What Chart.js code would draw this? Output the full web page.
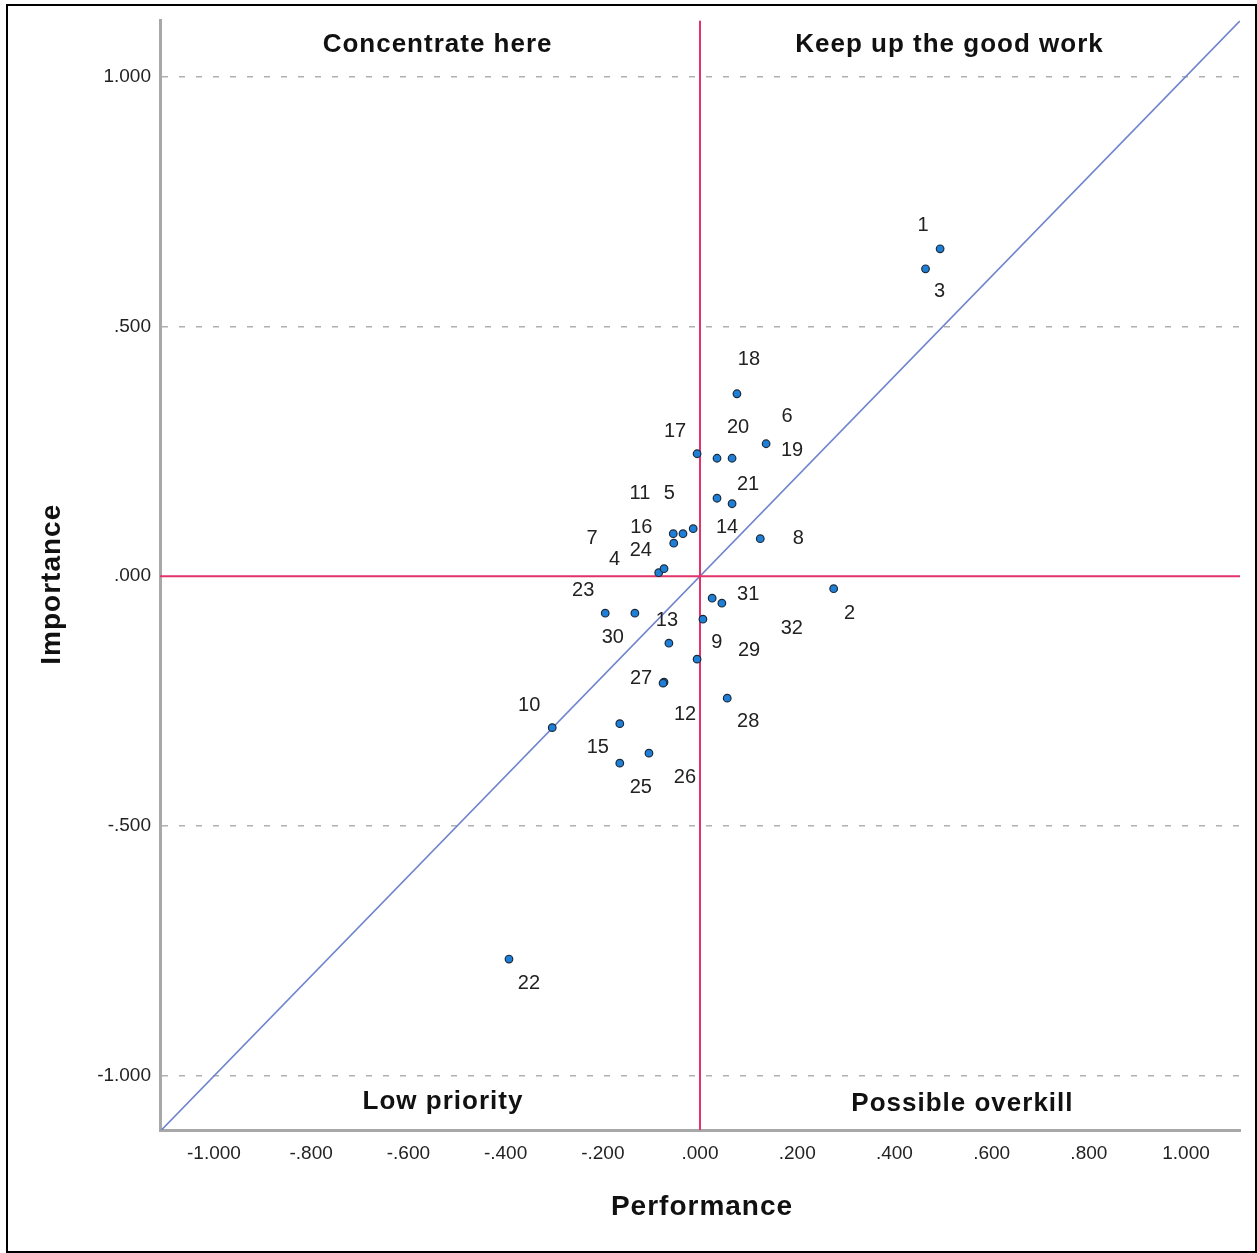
<!DOCTYPE html>
<html lang="en">
  <head>
    <meta charset="UTF-8">
    <script src="https://cdn.jsdelivr.net/npm/chart.js"></script>
    <style>
      body { margin: 0; background: #fff; }
      canvas { display: block; }
    </style>
  </head>
  <body>
    <canvas id="ipaChart" width="1257" height="1253"></canvas>

<script>
  // point ids (1..32) with performance (x) and importance (y)
  const pointIds = ['1','2','3','4','5','6','7','8','9','10','11','12','13','14','15','16',
                    '17','18','19','20','21','22','23','24','25','26','27','28','29','30','31','32'];
  const performance = [0.494, 0.275, 0.464, -0.085, -0.014, 0.136, -0.074, 0.124, 0.006, -0.304,
                       -0.035, -0.074, -0.064, 0.035, -0.165, -0.055, -0.006, 0.076, 0.066, 0.035,
                       0.066, -0.393, -0.195, -0.054, -0.165, -0.105, -0.076, 0.056, -0.006, -0.134,
                       0.025, 0.045];
  const importance = [0.655, -0.025, 0.615, 0.007, 0.095, 0.265, 0.015, 0.075, -0.086, -0.303,
                      0.085, -0.212, -0.134, 0.156, -0.295, 0.085, 0.245, 0.365, 0.236, 0.236,
                      0.145, -0.766, -0.074, 0.066, -0.374, -0.354, -0.214, -0.244, -0.166, -0.074,
                      -0.044, -0.054];

  const xTickValues = [-1, -0.8, -0.6, -0.4, -0.2, 0, 0.2, 0.4, 0.6, 0.8, 1];
  const yTickValues = [-1, -0.5, 0, 0.5, 1];
  const quadrantNames = ['Concentrate here', 'Keep up the good work', 'Low priority', 'Possible overkill'];
  const xTitle = 'Performance';
  const yTitle = 'Importance';

  // where each id label sits relative to its point (pixels), like SPSS placed them
  const labelShift = [[-17,-23],[16,25],[14,23],[-44,-13],[-24,-35],[21,-27],[-72,-30],[38,0],
                      [14,23],[-23,-22],[-43,-40],[21,32],[-2,-23],[10,29],[-22,24],[-32,-6],
                      [-22,-22],[12,-34],[60,-8],[21,-31],[16,-19],[20,24],[-22,-23],[-33,7],
                      [21,24],[36,24],[-22,-5],[21,23],[52,-9],[-22,24],[36,-4],[70,25]];

  const X_MIN = -1.111, X_MAX = 1.111;
  const Y_MIN = -1.108, Y_MAX = 1.112;
  const FONT = '"Liberation Sans", Arial, sans-serif';

  // "1.000", ".500", "-.200" style of SPSS
  function spssFmt(v) {
    let s = Math.abs(v).toFixed(3);
    if (s.startsWith('0')) s = s.slice(1);
    return (v < 0 ? '-' : '') + s;
  }

  const points = performance.map((p, i) => ({ x: p, y: importance[i] }));

  const textPlugin = {
    id: 'ipaText',
    beforeDraw(chart) {
      const ctx = chart.ctx;
      ctx.save();
      ctx.fillStyle = '#fff';
      ctx.fillRect(0, 0, chart.width, chart.height);
      ctx.restore();
    },
    afterDraw(chart) {
      const ctx = chart.ctx;
      const xs = chart.scales.x, ys = chart.scales.y;
      const area = chart.chartArea;
      const w = area.right - area.left;
      ctx.save();

      // id labels next to points
      ctx.font = '20px ' + FONT;
      ctx.fillStyle = '#222';
      ctx.textAlign = 'center';
      ctx.textBaseline = 'middle';
      points.forEach((pt, i) => {
        const px = xs.getPixelForValue(pt.x) + labelShift[i][0];
        const py = ys.getPixelForValue(pt.y) + labelShift[i][1];
        ctx.fillText(pointIds[i], px, py);
      });

      // quadrant captions
      ctx.font = 'bold 26px ' + FONT;
      ctx.letterSpacing = '1px';
      ctx.fillStyle = '#111';
      ctx.fillText(quadrantNames[0], area.left + w * 0.257, area.top + 24);
      ctx.fillText(quadrantNames[1], area.left + w * 0.731, area.top + 24);
      ctx.fillText(quadrantNames[2], area.left + w * 0.262, area.bottom - 28);
      ctx.fillText(quadrantNames[3], area.left + w * 0.743, area.bottom - 26);

      // axis titles
      ctx.font = 'bold 28px ' + FONT;
      ctx.fillText(xTitle, (area.left + area.right) / 2 + 2, area.bottom + 77);
      ctx.translate(52, (area.top + area.bottom) / 2 + 9);
      ctx.rotate(-Math.PI / 2);
      ctx.fillText(yTitle, 0, 0);
      ctx.restore();

      // outer frame
      ctx.save();
      ctx.strokeStyle = '#000';
      ctx.lineWidth = 2;
      ctx.strokeRect(7, 5, 1249, 1247);
      ctx.restore();
    }
  };

  const config = {
    type: 'scatter',
    data: {
      datasets: [
        {
          label: 'items',
          data: points,
          backgroundColor: '#1f7fd6',
          borderColor: '#1b2a3c',
          borderWidth: 1.2,
          pointRadius: 3.8,
          order: 0
        },
        {
          // importance = performance
          label: 'diagonal',
          type: 'line',
          data: [{ x: X_MIN, y: X_MIN }, { x: X_MAX, y: X_MAX }],
          borderColor: '#6f84cc',
          borderWidth: 1.6,
          pointRadius: 0,
          order: 2
        },
        {
          label: 'x mean',
          type: 'line',
          data: [{ x: 0, y: Y_MIN }, { x: 0, y: Y_MAX }],
          borderColor: '#e2336a',
          borderWidth: 2,
          pointRadius: 0,
          order: 1
        },
        {
          label: 'y mean',
          type: 'line',
          data: [{ x: X_MIN, y: 0 }, { x: X_MAX, y: 0 }],
          borderColor: '#e2336a',
          borderWidth: 2,
          pointRadius: 0,
          order: 1
        }
      ]
    },
    options: {
      responsive: false,
      animation: false,
      layout: { padding: { top: 18, right: 17, left: 0, bottom: 0 } },
      plugins: {
        legend: { display: false },
        tooltip: { enabled: false }
      },
      scales: {
        x: {
          type: 'linear',
          min: X_MIN,
          max: X_MAX,
          afterBuildTicks: (scale) => { scale.ticks = xTickValues.map(v => ({ value: v })); },
          afterFit: (scale) => { scale.height = 123; },
          grid: { display: false, drawTicks: false },
          border: { display: true, color: '#a8a8a8', width: 3 },
          ticks: {
            padding: 12,
            color: '#222',
            font: { family: FONT, size: 19 },
            maxRotation: 0,
            callback: (v) => spssFmt(v)
          }
        },
        y: {
          type: 'linear',
          min: Y_MIN,
          max: Y_MAX,
          afterBuildTicks: (scale) => { scale.ticks = yTickValues.map(v => ({ value: v })); },
          afterFit: (scale) => { scale.width = 160; },
          grid: {
            drawTicks: false,
            lineWidth: 1.5,
            color: (c) => (c.tick && c.tick.value === 0 ? 'rgba(0,0,0,0)' : '#b0b0b0')
          },
          border: { display: true, color: '#a8a8a8', width: 3, dash: [6, 11] },
          ticks: {
            padding: 9,
            color: '#222',
            font: { family: FONT, size: 19 },
            callback: (v) => spssFmt(v)
          }
        }
      }
    },
    plugins: [textPlugin]
  };

  const ipaChart = new Chart(document.getElementById('ipaChart'), config);
</script>
</body>
</html>
